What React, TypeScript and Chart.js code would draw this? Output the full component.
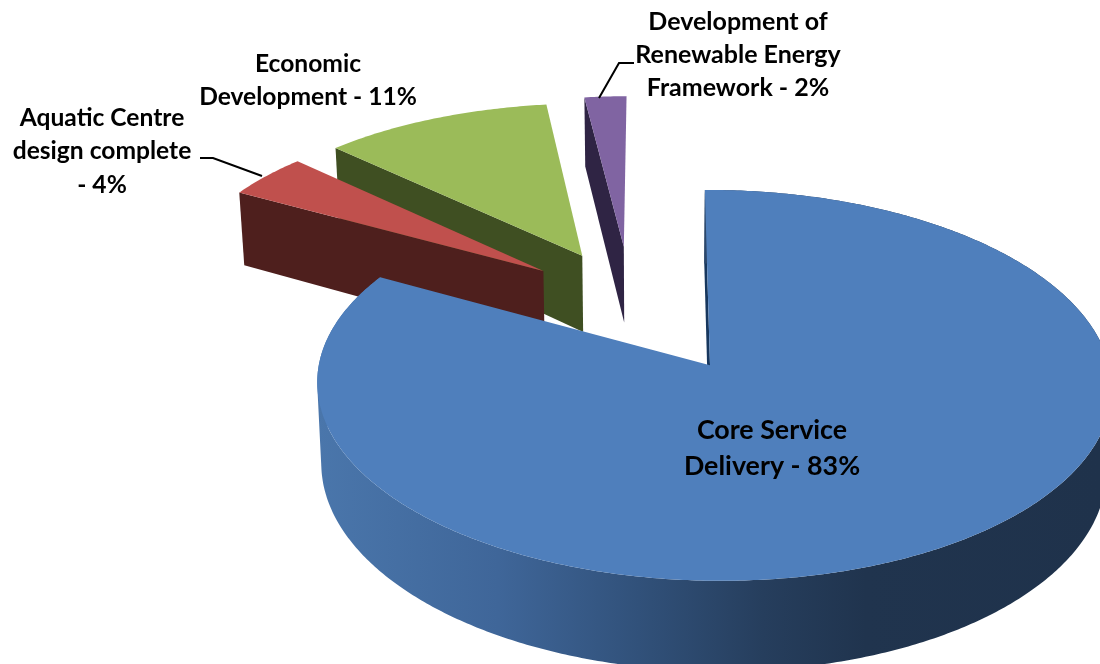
import React, { useEffect, useRef } from "react";
import { Chart, registerables } from "chart.js";

Chart.register(...registerables);

const categories = [
  "Core Service Delivery",
  "Aquatic Centre design complete",
  "Economic Development",
  "Development of Renewable Energy Framework",
];
const values = [83, 4, 11, 2];
const explode = [111, 80, 80, 86];
const topColors = ["#4f7fbc", "#c0504d", "#9bbb59", "#8064a2"];
const wallColors = ["#17375e", "#4e1f1d", "#3f4f22", "#2f2444"];
const labelLines = [
  ["Core Service", "Delivery - 83%"],
  ["Aquatic Centre", "design complete", "- 4%"],
  ["Economic", "Development - 11%"],
  ["Development of", "Renewable Energy", "Framework - 2%"],
];
const labelCentres = [
  [772, 430],
  [102, 118],
  [308, 64],
  [738, 22],
];
const labelLineHeights = [36, 33.5, 33, 33];
const labelFonts = ["bold 26.8px Lato", "bold 24.6px Lato", "bold 24.6px Lato", "bold 25px Lato"];
const leaders = [
  null,
  [[200, 158], [213, 158], [262, 176]],
  null,
  [[634, 63], [619, 63], [599, 98]],
];

// camera used to turn the flat pie into the tilted 3D view
const CAM = { x0: 655, y0: 365, a: 394, b: 193, k: 0.1026, m: 0.01, q: 0.04, depth: 81, shrink: 0.012, baseU: -0.065, baseV: 0.344 };

function project(u: number, v: number, z: number) {
  const w = 1 + CAM.k * v - CAM.m * u;
  const far = Math.max(0, v - 1);
  let x = CAM.x0 + (CAM.a * u) / w;
  let y = CAM.y0 - (CAM.b * v) / (w + CAM.q * far * far);
  if (z) {
    y += (CAM.depth * z) / w;
    x -= (x - CAM.x0) * CAM.shrink * z;
  }
  return [x, y];
}

const tiltedPie = {
  id: "tiltedPie",
  beforeDatasetsDraw(chart: any) {
    const ctx: CanvasRenderingContext2D = chart.ctx;
    const arcs = chart.getDatasetMeta(0).data;
    const wallGrad = ctx.createLinearGradient(318, 0, 1100, 0);
    [
      [0, "#4a76ab"],
      [0.23, "#3f6699"],
      [0.41, "#31517a"],
      [0.57, "#263e5d"],
      [0.7, "#20344e"],
      [1, "#1f324b"],
    ].forEach(([p, c]) => wallGrad.addColorStop(p as number, c as string));

    const poly = (pts: number[][], fill: any) => {
      ctx.beginPath();
      pts.forEach(([x, y], i) => (i ? ctx.lineTo(x, y) : ctx.moveTo(x, y)));
      ctx.closePath();
      ctx.fillStyle = fill;
      ctx.fill();
    };

    [3, 2, 1, 0].forEach((i) => {
      const arc = arcs[i];
      const { startAngle, endAngle, outerRadius } = arc;
      const mid = (startAngle + endAngle) / 2;
      const off = arc.options.offset / outerRadius;
      const cu = CAM.baseU + Math.cos(mid) * off;
      const cv = CAM.baseV - Math.sin(mid) * off;
      const steps = Math.ceil((endAngle - startAngle) / 0.01);
      const rim: number[][] = [];
      for (let s = 0; s <= steps; s++) {
        const a = startAngle + ((endAngle - startAngle) * s) / steps;
        rim.push([cu + Math.cos(a), cv - Math.sin(a)]);
      }
      const top = rim.map(([u, v]) => project(u, v, 0));
      const bottom = rim.map(([u, v]) => project(u, v, 1));
      const apexTop = project(cu, cv, 0);
      const apexBottom = project(cu, cv, 1);
      // visible radial wall (the slice's leading edge)
      poly([apexTop, top[0], bottom[0], apexBottom], wallColors[i]);
      // outer rim wall: only the big slice turns its rim to the viewer
      if (i === 0) {
        ctx.beginPath();
        for (let s = 0; s < steps; s++) {
          const quad = [top[s], top[s + 1], bottom[s + 1], bottom[s]];
          const area = quad.reduce((sum, p, n) => {
            const q = quad[(n + 1) % 4];
            return sum + p[0] * q[1] - q[0] * p[1];
          }, 0);
          if (area < 0) quad.reverse();
          quad.forEach(([x, y], n) => (n ? ctx.lineTo(x, y) : ctx.moveTo(x, y)));
          ctx.closePath();
        }
        ctx.fillStyle = wallGrad;
        ctx.fill("nonzero");
      }
      // top face
      poly([apexTop, ...top], topColors[i]);
    });

    // labels and leader lines
    ctx.strokeStyle = "#000";
    ctx.lineWidth = 2;
    leaders.forEach((pts) => {
      if (!pts) return;
      ctx.beginPath();
      pts.forEach(([x, y], i) => (i ? ctx.lineTo(x, y) : ctx.moveTo(x, y)));
      ctx.stroke();
    });
    ctx.fillStyle = "#000";
    ctx.textAlign = "center";
    ctx.textBaseline = "middle";
    labelLines.forEach((lines, i) => {
      ctx.font = labelFonts[i];
      lines.forEach((t, j) => {
        ctx.fillText(t, labelCentres[i][0], labelCentres[i][1] + j * labelLineHeights[i]);
      });
    });
    return false;
  },
};

export default function App() {
  const ref = useRef<HTMLCanvasElement>(null);
  useEffect(() => {
    const chart = new Chart(ref.current!, {
      type: "pie",
      data: {
        labels: categories,
        datasets: [{ data: values, backgroundColor: topColors, offset: explode, borderWidth: 0 }],
      },
      options: {
        animation: false,
        responsive: false,
        plugins: { legend: { display: false }, tooltip: { enabled: false } },
      },
      plugins: [tiltedPie],
    } as any);
    return () => chart.destroy();
  }, []);
  return (
    <div style={{ position: "fixed", left: 0, top: 0, width: 1100, height: 664, background: "#fff", overflow: "hidden" }}>
      <canvas ref={ref} width={1100} height={664} style={{ display: "block" }} />
    </div>
  );
}
